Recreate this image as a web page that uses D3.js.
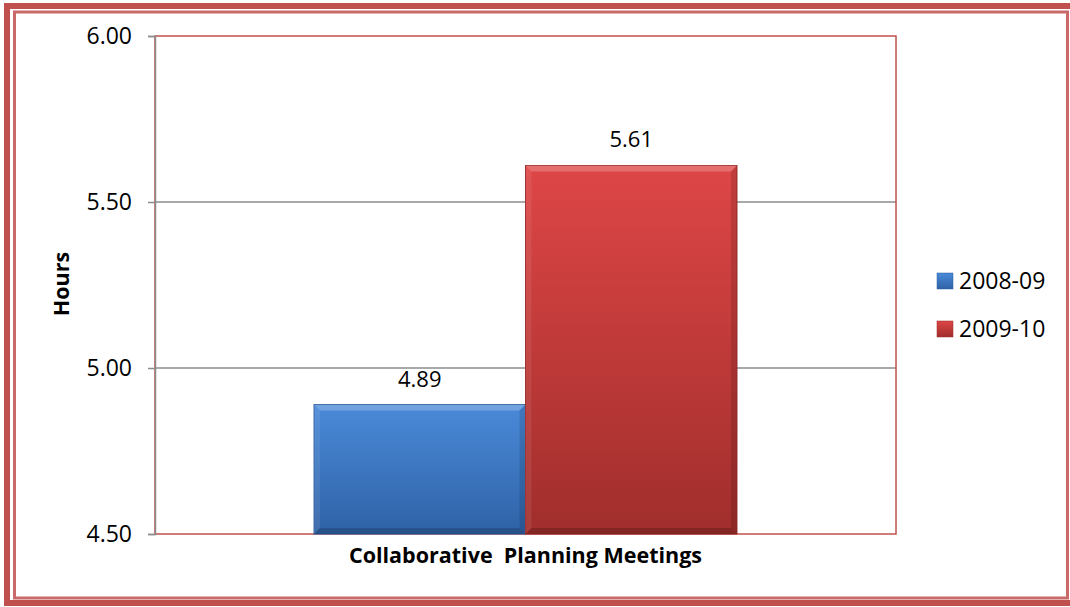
<!DOCTYPE html>
<html>
<head>
<meta charset="utf-8">
<title>Collaborative Planning Meetings</title>
<script src="https://d3js.org/d3.v7.min.js"></script>
<style>
  body { margin: 0; background: #fff; }
  text { font-family: "Open Sans", sans-serif; fill: #000; }
  .grid line { stroke: #8c8c8c; stroke-width: 1.5px; }
</style>
</head>
<body>
<div id="chart"></div>
<script>
// data
var categories = ["Collaborative  Planning Meetings"];
var seriesNames = ["2008-09", "2009-10"];
var seriesValues = [4.89, 5.61];
var yTicks = [4.5, 5.0, 5.5, 6.0];

var width = 1070, height = 607;
var m = {left: 155, top: 36, right: 896, bottom: 534};

var svg = d3.select("#chart").append("svg")
    .attr("width", width).attr("height", height);

var defs = svg.append("defs");
var grads = [["blueG", "#4a8ad9", "#2f62a6"], ["redG", "#de4646", "#a02e2c"]];
grads.forEach(function(g) {
  var lg = defs.append("linearGradient").attr("id", g[0])
      .attr("x1", 0).attr("y1", 0).attr("x2", 0).attr("y2", 1);
  lg.append("stop").attr("offset", "0%").attr("stop-color", g[1]);
  lg.append("stop").attr("offset", "100%").attr("stop-color", g[2]);
});
var colors = ["url(#blueG)", "url(#redG)"];
var solid = ["#2f5f9e", "#9a2d2b"];

// outer frame
svg.append("rect").attr("x", 7).attr("y", 6).attr("width", width + 10).attr("height", 597)
    .attr("fill", "none").attr("stroke", "#c0504d").attr("stroke-width", 6);
svg.append("rect").attr("x", 14.5).attr("y", 12).attr("width", 1053).attr("height", 586)
    .attr("fill", "none").attr("stroke", "#c0504d").attr("stroke-width", 3).attr("opacity", 0.85);

var y = d3.scaleLinear().domain([4.5, 6.0]).range([m.bottom, m.top]);
var x0 = d3.scaleBand().domain(categories).range([m.left, m.right]).paddingOuter(0.376).paddingInner(0);
var x1 = d3.scaleBand().domain(seriesNames).range([0, x0.bandwidth()]);

// gridlines
svg.append("g").attr("class", "grid")
  .selectAll("line").data(yTicks.slice(1, 3)).enter().append("line")
  .attr("x1", m.left).attr("x2", m.right)
  .attr("y1", function(d) { return y(d); }).attr("y2", function(d) { return y(d); });

// plot border (red)
svg.append("rect").attr("x", m.left).attr("y", m.top)
    .attr("width", m.right - m.left).attr("height", m.bottom - m.top)
    .attr("fill", "none").attr("stroke", "#c0504d").attr("stroke-width", 1.5);

// y axis
var yAxis = d3.axisLeft(y).tickValues(yTicks).tickFormat(d3.format(".2f")).tickSize(7).tickPadding(16);
var ya = svg.append("g").attr("transform", "translate(" + m.left + ",0)").call(yAxis);
ya.select(".domain").attr("stroke", "#8c8c8c").attr("stroke-width", 1.5);
ya.selectAll(".tick line").attr("stroke", "#8c8c8c").attr("stroke-width", 1.5);
ya.selectAll(".tick text").attr("font-size", 23).attr("font-family", "'Open Sans', sans-serif").attr("fill", "#000");

// bars
var bars = svg.append("g").selectAll("g").data(seriesValues).enter().append("g")
  .attr("transform", function(d, i) { return "translate(" + (x0(categories[0]) + x1(seriesNames[i])) + ",0)"; });

var bw = x1.bandwidth(), bev = 6;
bars.append("rect")
  .attr("x", 0).attr("width", bw)
  .attr("y", function(d) { return y(d); })
  .attr("height", function(d) { return y(4.5) - y(d); })
  .attr("fill", function(d, i) { return colors[i]; })
  .attr("stroke", function(d, i) { return solid[i]; }).attr("stroke-width", 1);

// bevel highlights / shadows
bars.append("path").attr("fill", "#fff").attr("opacity", 0.22)
  .attr("d", function(d) { var t = y(d); return "M0," + t + "H" + bw + "L" + (bw - bev) + "," + (t + bev) + "H" + bev + "Z"; });
bars.append("path").attr("fill", "#fff").attr("opacity", 0.08)
  .attr("d", function(d) { var t = y(d), b = y(4.5); return "M0," + t + "L" + bev + "," + (t + bev) + "V" + (b - bev) + "L0," + b + "Z"; });
bars.append("path").attr("fill", "#000").attr("opacity", 0.12)
  .attr("d", function(d) { var t = y(d), b = y(4.5); return "M" + bw + "," + t + "L" + (bw - bev) + "," + (t + bev) + "V" + (b - bev) + "L" + bw + "," + b + "Z"; });
bars.append("path").attr("fill", "#000").attr("opacity", 0.18)
  .attr("d", function(d) { var b = y(4.5); return "M0," + b + "L" + bev + "," + (b - bev) + "H" + (bw - bev) + "L" + bw + "," + b + "Z"; });

// value labels
bars.append("text")
  .attr("x", bw / 2).attr("y", function(d) { return y(d) - 18; })
  .attr("text-anchor", "middle").attr("font-size", 22)
  .text(function(d) { return d3.format(".2f")(d); });

// category label
svg.append("text")
  .attr("x", x0(categories[0]) + x0.bandwidth() / 2).attr("y", 563)
  .attr("text-anchor", "middle").attr("font-size", 21.5).attr("font-weight", "bold")
  .style("white-space", "pre")
  .text(categories[0]);

// y title
svg.append("text")
  .attr("transform", "translate(69," + 284 + ") rotate(-90)")
  .attr("text-anchor", "middle").attr("font-size", 21.5).attr("font-weight", "bold")
  .text("Hours");

// legend
var leg = svg.append("g").selectAll("g").data(seriesNames).enter().append("g")
  .attr("transform", function(d, i) { return "translate(937," + (273 + i * 48) + ")"; });
leg.append("rect").attr("width", 16).attr("height", 16)
  .attr("fill", function(d, i) { return colors[i]; })
  .attr("stroke", function(d, i) { return solid[i]; }).attr("stroke-width", 0.5);
leg.append("text").attr("x", 22).attr("y", 16).attr("font-size", 23).text(function(d) { return d; });
</script>
</body>
</html>
